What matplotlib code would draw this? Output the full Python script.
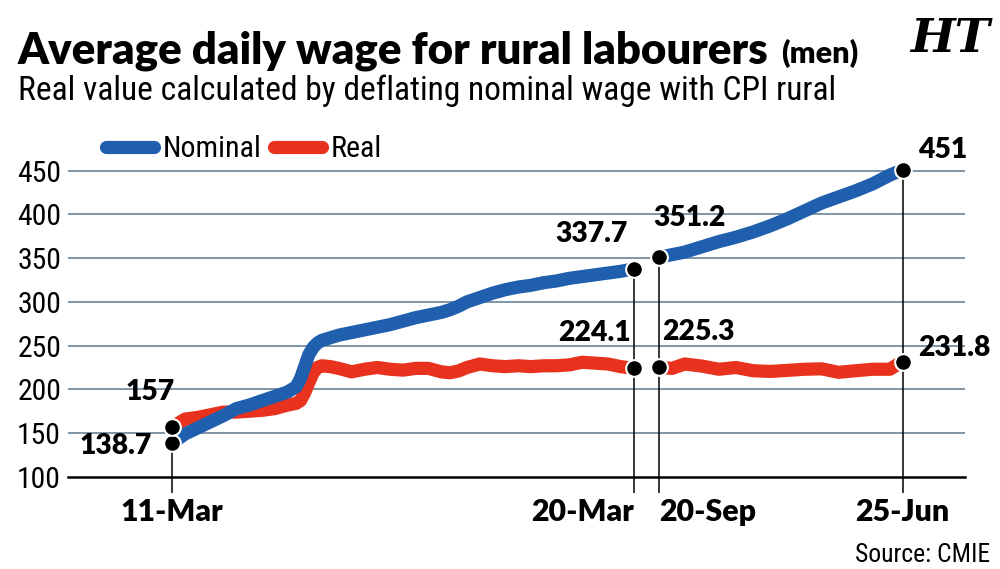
import matplotlib
matplotlib.use("Agg")
import matplotlib.pyplot as plt
from matplotlib import font_manager
from matplotlib.font_manager import FontProperties
from matplotlib.lines import Line2D

# ---------------- data (months counted from Mar 2011) ----------------
months_pre = [0, 3, 6, 9, 12, 15, 18, 21, 24, 27, 29, 30, 31, 32, 33, 34, 35, 37, 39, 42,
              45, 48, 51, 54, 57, 60, 63, 65, 67, 69, 72, 75, 78, 81, 84, 87, 90, 93, 96,
              99, 102, 105, 108]
nominal_pre = [138.7, 149, 156, 163, 170, 178, 182, 187, 192, 197, 203, 212, 226, 240, 248,
               253, 256, 259, 262, 265, 268, 271, 274, 278, 282, 285, 288, 291, 295, 300,
               305, 310, 314, 317, 319, 322, 324, 327, 329, 331, 333, 335, 337.7]
real_pre = [157, 166, 168, 171, 174, 174, 175, 176, 178, 182, 184, 187, 196, 208, 219, 225,
            227, 226, 224, 220, 223, 225, 223, 222, 224, 224, 220, 219, 221, 225, 229, 227,
            226, 227, 226, 227, 227, 228, 231, 230, 229, 226, 224.1]

months_post = [114, 117, 120, 124, 128, 132, 136, 140, 144, 148, 152, 156, 160, 164, 168,
               170, 171]
nominal_post = [351.2, 354, 357, 363, 369, 374, 380, 387, 395, 404, 413, 420, 427, 435, 445,
                449, 451]
real_post = [225.3, 224, 229, 226.6, 223, 225, 221.3, 220.5, 221.7, 223, 223.5, 219.5, 221.3,
             223, 223, 229, 231.8]

tick_months = [0, 108, 114, 171]
tick_labels = ["11-Mar", "20-Mar", "20-Sep", "25-Jun"]
y_ticks = [100, 150, 200, 250, 300, 350, 400, 450]

TITLE = "Average daily wage for rural labourers"
SUBTITLE = "Real value calculated by deflating nominal wage with CPI rural"

BLUE = "#1f5fae"
RED = "#e8321e"
GRID = "#7f95a5"

fig = plt.figure(figsize=(10, 5.69), dpi=100)
renderer = fig.canvas.get_renderer()


def width_of(prop, text):
    t = fig.text(0, 0, text, fontproperties=prop)
    w = t.get_window_extent(renderer).width
    t.remove()
    return w


def wnum(w):
    if isinstance(w, str):
        return font_manager.weight_dict.get(w, 400)
    return w


# ---- pick sans font files whose proportions best match the condensed reference face ----
SANS = {"Liberation Sans", "Liberation Sans Narrow", "Roboto", "Roboto Condensed",
        "Open Sans", "Open Sans Condensed", "Noto Sans", "Noto Sans Condensed",
        "Noto Sans SemiCondensed", "Noto Sans ExtraCondensed", "DejaVu Sans",
        "DejaVu Sans Condensed", "Lato", "Inter"}
entries = [f for f in font_manager.fontManager.ttflist
           if f.style == "normal" and f.name in SANS
           and f.fname.lower().endswith((".ttf", ".otf"))]


def pick(text, target_w30, wlo, whi):
    best = None
    for f in entries:
        if not (wlo <= wnum(f.weight) <= whi):
            continue
        try:
            w = width_of(FontProperties(fname=f.fname, size=30), text)
        except Exception:
            continue
        d = abs(w - target_w30)
        if best is None or d < best[0]:
            best = (d, f.fname)
    return best[1] if best else None


# reference: title 752px wide at 31px cap height; subtitle 817px wide at 23px cap height
BOLD_FILE = pick(TITLE, 752 * 30 / 31.3, 600, 800)
REG_FILE = pick(SUBTITLE, 817 * 30 / 23.2, 350, 450)


def fp(size, bold=False):
    f = BOLD_FILE if bold else REG_FILE
    if f is None:
        return FontProperties(family="DejaVu Sans", weight="bold" if bold else "normal", size=size)
    return FontProperties(fname=f, size=size)


def fit(text, target_px, bold=False, h_size=None):
    """size matching the reference width; averaged with the size matching its height"""
    w = width_of(fp(20, bold), text)
    s = 20 * target_px / w
    if h_size is not None:
        s = 0.5 * (s + h_size)
    return s


ax = fig.add_axes([0.068, 0.162, 0.897, 0.561])
ax.set_xlim(-24.4, 185.6)
ax.set_ylim(100, 465)

for s in ["top", "right", "left"]:
    ax.spines[s].set_visible(False)
ax.spines["bottom"].set_linewidth(1.8)
ax.spines["bottom"].set_color("black")

ysz = fit("450", 45, h_size=21)
ax.set_yticks(y_ticks)
ax.set_yticklabels([str(v) for v in y_ticks], fontproperties=fp(ysz))
ax.tick_params(axis="y", length=0, pad=5)
for v in y_ticks[1:]:
    ax.axhline(v, color=GRID, lw=1.4, zorder=1)

# vertical guide lines from axis to markers
tops = [nominal_pre[0], nominal_pre[-1], nominal_post[0], nominal_post[-1]]
for m, top in zip(tick_months, tops):
    ax.plot([m, m], [100, top], color="black", lw=1.1, zorder=3, clip_on=False)

xsz = fit("11-Mar", 103, True)
ax.set_xticks(tick_months)
ax.set_xticklabels(tick_labels, fontproperties=fp(xsz, True))
ax.tick_params(axis="x", length=11.5, width=1.1, direction="out", pad=4, color="black")
lbls = ax.get_xticklabels()
lbls[1].set_ha("right")
lbls[1].set_x(tick_months[1] + 0.5)
lbls[2].set_ha("left")
lbls[2].set_x(tick_months[2] + 1.0)

lw = 9.5
kw = dict(lw=lw, solid_capstyle="round", solid_joinstyle="round")
ax.plot(months_pre, real_pre, color=RED, zorder=4, **kw)
ax.plot(months_post, real_post, color=RED, zorder=4, **kw)
ax.plot(months_pre, nominal_pre, color=BLUE, zorder=5, **kw)
ax.plot(months_post, nominal_post, color=BLUE, zorder=5, **kw)

mx = [months_pre[0], months_pre[0], months_pre[-1], months_pre[-1],
      months_post[0], months_post[0], months_post[-1], months_post[-1]]
my = [nominal_pre[0], real_pre[0], nominal_pre[-1], real_pre[-1],
      nominal_post[0], real_post[0], nominal_post[-1], real_post[-1]]
ax.plot(mx, my, "o", ms=12, mfc="black", mec="white", mew=1.5, zorder=6, clip_on=False)

asz = fit("337.7", 72, True, h_size=20.5)


def lab(m, v, dx, dy, ha, va):
    ax.annotate(f"{v:g}", (m, v), xytext=(dx, dy), ha=ha, va=va, fontproperties=fp(asz, True),
                textcoords="offset points", zorder=7)


lab(months_pre[0], real_pre[0], 2, 16, "right", "bottom")
lab(months_pre[0], nominal_pre[0], -15, -2, "right", "center")
lab(months_pre[-1], nominal_pre[-1], -4, 16, "right", "bottom")
lab(months_pre[-1], real_pre[-1], -2, 16, "right", "bottom")
lab(months_post[0], nominal_post[0], -4, 19, "left", "bottom")
lab(months_post[0], real_post[0], 2, 16, "left", "bottom")
lab(months_post[-1], nominal_post[-1], 11, 14, "left", "center")
lab(months_post[-1], real_post[-1], 11, 10, "left", "center")

# legend
lsz = fit("Nominal", 97, h_size=22)
handles = [Line2D([0], [0], color=BLUE, lw=lw, solid_capstyle="round"),
           Line2D([0], [0], color=RED, lw=lw, solid_capstyle="round")]
fig.legend(handles, ["Nominal", "Real"], loc="center left", bbox_to_anchor=(0.106, 0.738),
           ncol=2, frameon=False, handlelength=48 / (lsz * 1.389), handletextpad=0.3,
           columnspacing=0.4, prop=fp(lsz), borderpad=0, borderaxespad=0)

# titles
tsz = fit(TITLE, 752, True)
t = fig.text(0.018, 0.889, TITLE, fontproperties=fp(tsz, True), ha="left", va="baseline")
fig.canvas.draw()
bb = t.get_window_extent()
msz = fit("(men)", 77, True)
fig.text(bb.x1 / fig.bbox.width + 0.012, 0.889, "(men)", fontproperties=fp(msz, True),
         ha="left", va="baseline")
ssz = fit(SUBTITLE, 817)
fig.text(0.018, 0.824, SUBTITLE, fontproperties=fp(ssz), ha="left", va="baseline")
csz = fit("Source: CMIE", 135)
fig.text(0.99, 0.012, "Source: CMIE", fontproperties=fp(csz), ha="right", va="baseline")
fig.text(0.99, 0.909, "HT", fontsize=34, fontweight="bold", style="italic",
         family="DejaVu Serif", ha="right", va="baseline")

fig.savefig("out.png", dpi=100)
